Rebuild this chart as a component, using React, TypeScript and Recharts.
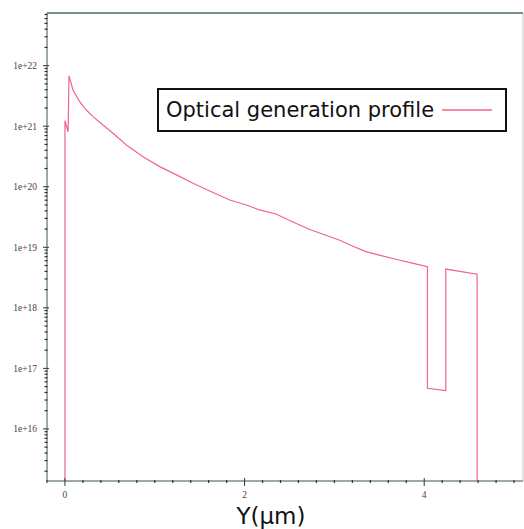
import { LineChart, Line, XAxis, YAxis, Legend, ReferenceLine } from 'recharts';

// Depth along the device (µm) and the optical generation rate at that depth
const positionUm = [
  0, 0, 0.035, 0.045, 0.089, 0.164, 0.238, 0.312, 0.423, 0.535, 0.684, 0.869,
  1.055, 1.241, 1.426, 1.612, 1.835, 2.021, 2.165, 2.349, 2.533, 2.719, 3.052, 3.2,
  3.349, 3.533, 3.719, 3.867, 4.036, 4.036, 4.24, 4.24, 4.589, 4.589,
];
const generation = [
  1e15, 1.23e21, 8.1e20, 6.8e21, 3.97e21, 2.54e21, 1.85e21, 1.44e21, 1.05e21, 7.66e20, 4.9e20, 3.14e20,
  2.15e20, 1.57e20, 1.14e20, 8.5e19, 6.05e19, 5.0e19, 4.14e19, 3.55e19, 2.65e19, 1.99e19, 1.32e19, 1.05e19,
  8.47e18, 7.2e18, 6.17e18, 5.46e18, 4.79e18, 4.7e16, 4.3e16, 4.37e18, 3.6e18, 1e15,
];

const data = positionUm.map((y, i) => ({ y, g: generation[i] }));

const SERIES_NAME = 'Optical generation profile';
const LINE_COLOR = '#f0648a';
const AXIS_COLOR = '#7b8e89';

// log axis: decades plus 2..9 minor ticks
const Y_MIN = 1.38e15;
const Y_MAX = 7.41e22;
const Y_DECADES = [15, 16, 17, 18, 19, 20, 21, 22];
const Y_MULTIPLIERS = [1, 2, 3, 4, 5, 6, 7, 8, 9];
const yTicks = Y_DECADES.flatMap((d) => Y_MULTIPLIERS.map((m) => m * 10 ** d)).filter(
  (v) => v >= Y_MIN && v <= Y_MAX,
);

const X_MIN = -0.2;
const X_MAX = 5.1;
const X_MAJOR = [0, 2, 4];
const xTicks = Array.from({ length: 27 }, (_, i) => Math.round((-0.2 + i * 0.2) * 10) / 10);

const MARGIN = { top: 13, right: 1, bottom: 0, left: 0 };
const Y_AXIS_WIDTH = 47;
const Y_TICK_MARGIN = 10;
const X_TICK_MARGIN = 8;

function YTick(props: any) {
  const { x, y, payload } = props;
  const ax = x + Y_TICK_MARGIN;
  const exp = Math.log10(payload.value);
  const major = Math.abs(exp - Math.round(exp)) < 1e-6;
  return (
    <g>
      <line
        x1={major ? ax - 4 : ax - 2.5}
        x2={major ? ax + 2 : ax + 0.5}
        y1={y}
        y2={y}
        stroke="#333"
        strokeWidth={major ? 1 : 1.2}
      />
      {major && (
        <text
          x={ax - 10}
          y={y}
          dy={3.5}
          textAnchor="end"
          fontFamily="'Liberation Serif', serif"
          fontSize={9.5}
          fill="#444"
        >
          {`1e+${Math.round(exp)}`}
        </text>
      )}
    </g>
  );
}

function XTick(props: any) {
  const { x, y, payload } = props;
  const ay = y - X_TICK_MARGIN;
  const major = X_MAJOR.includes(payload.value);
  return (
    <g>
      <line
        x1={x}
        x2={x}
        y1={major ? ay - 3 : ay - 1}
        y2={major ? ay + 5 : ay + 2}
        stroke="#333"
        strokeWidth={major ? 1 : 1.2}
      />
      {major && (
        <text
          x={x}
          y={ay + 13}
          dy={3.5}
          textAnchor="middle"
          fontFamily="'Liberation Serif', serif"
          fontSize={9.5}
          fill="#444"
        >
          {payload.value}
        </text>
      )}
    </g>
  );
}

function LegendBox() {
  return (
    <div
      style={{
        boxSizing: 'border-box',
        width: 350,
        height: 44,
        border: '2px solid #111',
        background: '#fff',
        display: 'flex',
        alignItems: 'center',
        paddingLeft: 7,
        fontFamily: '"DejaVu Sans", sans-serif',
        fontSize: 21,
        color: '#111',
        whiteSpace: 'nowrap',
      }}
    >
      <span>{SERIES_NAME}</span>
      <svg width={52} height={6} style={{ marginLeft: 8 }}>
        <line x1={0} x2={50} y1={3} y2={3} stroke={LINE_COLOR} strokeWidth={1.5} />
      </svg>
    </div>
  );
}

export default function App() {
  const width = 524;
  const height = 529;
  return (
    <div style={{ position: 'absolute', left: 0, top: 0, width, height, background: '#fff' }}>
      <LineChart width={width} height={height} data={data} margin={MARGIN}>
        <XAxis
          dataKey="y"
          type="number"
          domain={[X_MIN, X_MAX]}
          ticks={xTicks}
          interval={0}
          allowDataOverflow
          height={48}
          tickSize={0}
          tickMargin={X_TICK_MARGIN}
          tickLine={false}
          tick={(p: any) => <XTick {...p} />}
          axisLine={{ stroke: AXIS_COLOR, strokeWidth: 1.5 }}
          label={{
            value: 'Y(μm)',
            position: 'insideBottom',
            offset: 5,
            dx: -14,
            style: { fontFamily: '"DejaVu Sans", sans-serif', fontSize: 23, fill: '#111' },
          }}
        />
        <YAxis
          dataKey="g"
          scale="log"
          domain={[Y_MIN, Y_MAX]}
          ticks={yTicks}
          interval={0}
          allowDataOverflow
          width={Y_AXIS_WIDTH}
          tickSize={0}
          tickMargin={Y_TICK_MARGIN}
          tickLine={false}
          tick={(p: any) => <YTick {...p} />}
          axisLine={{ stroke: AXIS_COLOR, strokeWidth: 1.5 }}
        />
        <ReferenceLine x={X_MAX} stroke="#d4d8d7" strokeWidth={1.5} ifOverflow="visible" />
        <Legend
          layout="vertical"
          align="center"
          verticalAlign="middle"
          wrapperStyle={{ position: 'absolute', left: 157, top: 88, width: 350, height: 44 }}
          content={() => <LegendBox />}
        />
        <Line
          type="linear"
          dataKey="g"
          name={SERIES_NAME}
          stroke={LINE_COLOR}
          strokeWidth={1.2}
          dot={false}
          isAnimationActive={false}
        />
      </LineChart>
      {/* top edge of the plot frame */}
      <div
        style={{
          position: 'absolute',
          zIndex: 5,
          left: MARGIN.left + Y_AXIS_WIDTH,
          top: MARGIN.top - 1,
          width: width - MARGIN.left - MARGIN.right - Y_AXIS_WIDTH,
          height: 0,
          borderTop: `2px solid ${AXIS_COLOR}`,
        }}
      />
    </div>
  );
}
